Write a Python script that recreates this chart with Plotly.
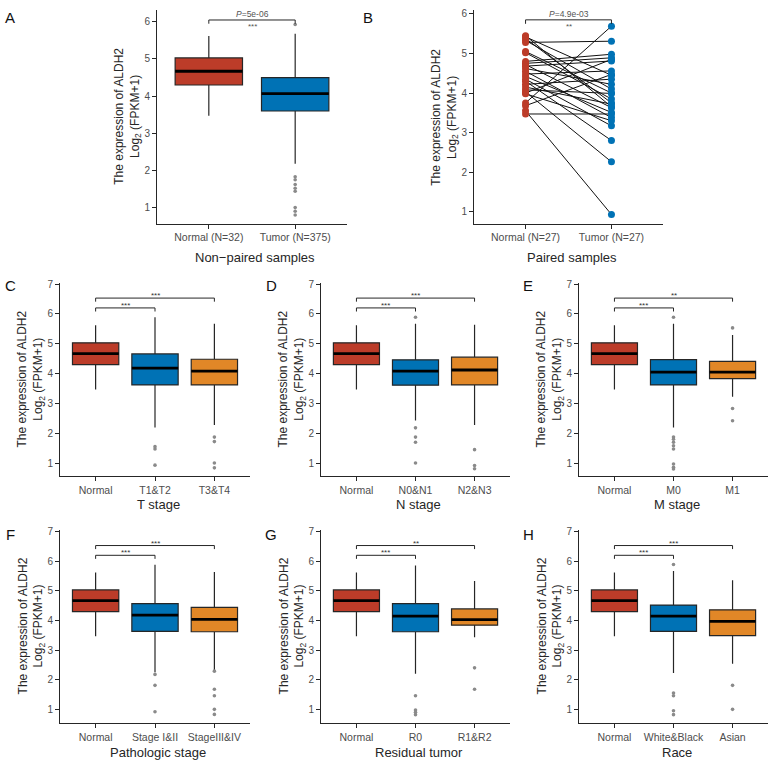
import plotly.graph_objects as go

W, H = 776, 763
FONT = "Liberation Sans, Arial, Helvetica, sans-serif"
RED, BLUE, ORANGE = "#BC3C29", "#0072B5", "#E18727"
PALETTE = [RED, BLUE, ORANGE]
INK = "#262626"
TICK_GREY = "#4d4d4d"
OUT_GREY = "#8a8a8a"

# ---------------- data ----------------
# Panel A: non-paired samples (lower whisker, q1, median, q3, upper whisker)
a_groups = ["Normal (N=32)", "Tumor (N=375)"]
a_lower = [3.47, 2.18]
a_q1 = [4.30, 3.60]
a_median = [4.67, 4.07]
a_q3 = [5.03, 4.50]
a_upper = [5.62, 5.68]
a_outliers = [[], [5.93, 1.83, 1.75, 1.62, 1.52, 1.44, 1.00, 0.90, 0.80]]
a_pvalue = "<i>P</i>=5e-06"
a_sig = "***"

# Panel B: paired samples
b_groups = ["Normal (N=27)", "Tumor (N=27)"]
b_normal = [5.45, 5.42, 5.38, 5.33, 5.28, 5.05, 5.02, 4.80, 4.75, 4.72, 4.68, 4.62, 4.55, 4.48,
            4.42, 4.35, 4.30, 4.22, 4.15, 4.08, 4.03, 4.00, 3.98, 3.75, 3.68, 3.55, 3.47]
b_tumor = [3.65, 4.45, 3.75, 4.10, 5.31, 4.00, 3.85, 4.98, 4.89, 3.63, 4.81, 4.22, 3.38, 4.56,
           3.51, 3.17, 2.80, 4.35, 3.72, 3.99, 2.26, 4.85, 3.30, 5.69, 4.47, 0.93, 3.47]
b_pvalue = "<i>P</i>=4.9e-03"
b_sig = "**"

# Panels C-H: Normal + two clinical subgroups
c_groups = ["Normal", "T1&T2", "T3&T4"]
c_lower = [3.47, 2.19, 2.28]
c_q1 = [4.30, 3.62, 3.62]
c_median = [4.67, 4.18, 4.08]
c_q3 = [5.03, 4.66, 4.48]
c_upper = [5.62, 5.89, 5.67]
c_outliers = [[], [1.55, 1.47, 0.93], [1.87, 1.72, 1.00, 0.84]]
c_sig = ["***", "***"]

d_groups = ["Normal", "N0&N1", "N2&N3"]
d_lower = [3.47, 2.43, 2.28]
d_q1 = [4.30, 3.61, 3.62]
d_median = [4.67, 4.08, 4.12]
d_q3 = [5.03, 4.46, 4.55]
d_upper = [5.62, 5.67, 5.64]
d_outliers = [[], [5.89, 2.18, 1.87, 1.70, 1.00], [1.45, 0.92, 0.81]]
d_sig = ["***", "***"]

e_groups = ["Normal", "M0", "M1"]
e_lower = [3.47, 2.19, 3.22]
e_q1 = [4.30, 3.62, 3.83]
e_median = [4.67, 4.05, 4.05]
e_q3 = [5.03, 4.47, 4.41]
e_upper = [5.62, 5.67, 5.29]
e_outliers = [[], [5.89, 1.87, 1.80, 1.70, 1.58, 1.47, 0.97, 0.86, 0.80], [5.53, 2.83, 2.42]]
e_sig = ["***", "**"]

f_groups = ["Normal", "Stage I&II", "StageIII&IV"]
f_lower = [3.47, 2.25, 2.32]
f_q1 = [4.30, 3.63, 3.62]
f_median = [4.67, 4.18, 4.04]
f_q3 = [5.03, 4.57, 4.44]
f_upper = [5.62, 5.88, 5.64]
f_outliers = [[], [2.18, 1.81, 0.92], [2.29, 1.68, 1.46, 1.00, 0.83]]
f_sig = ["***", "***"]

g_groups = ["Normal", "R0", "R1&R2"]
g_lower = [3.47, 2.20, 3.43]
g_q1 = [4.30, 3.62, 3.84]
g_median = [4.67, 4.15, 4.03]
g_q3 = [5.03, 4.57, 4.39]
g_upper = [5.62, 5.86, 5.33]
g_outliers = [[], [1.46, 0.98, 0.90, 0.82], [2.40, 1.68]]
g_sig = ["***", "**"]

h_groups = ["Normal", "White&Black", "Asian"]
h_lower = [3.47, 2.23, 2.54]
h_q1 = [4.30, 3.63, 3.49]
h_median = [4.67, 4.15, 3.97]
h_q3 = [5.03, 4.52, 4.36]
h_upper = [5.62, 5.67, 5.36]
h_outliers = [[], [5.89, 1.55, 1.46, 0.95, 0.82], [1.81, 1.00]]
h_sig = ["***", "***"]

Y_TITLE = "The expression of ALDH2<br>Log<sub>2</sub> (FPKM+1)"

# ---------------- layout helpers ----------------
# pixel boxes of each plotting area: (left, right, top, bottom)
PANELS = [
    dict(key="A", box=(157, 347, 5, 220), yr=[0.57, 6.32], ticks=[1, 2, 3, 4, 5, 6],
         xtitle="Non\u2212paired samples", letter=(10, 13)),
    dict(key="B", box=(474, 663, 5, 220), yr=[0.70, 6.10], ticks=[1, 2, 3, 4, 5, 6],
         xtitle="Paired samples", letter=(368, 13)),
    dict(key="C", box=(60, 250, 280, 474), yr=[0.57, 7.03], ticks=[1, 2, 3, 4, 5, 6, 7],
         xtitle="T stage", letter=(10, 282)),
    dict(key="D", box=(321, 510, 280, 474), yr=[0.57, 7.03], ticks=[1, 2, 3, 4, 5, 6, 7],
         xtitle="N stage", letter=(271, 282)),
    dict(key="E", box=(579, 768, 280, 474), yr=[0.57, 7.03], ticks=[1, 2, 3, 4, 5, 6, 7],
         xtitle="M stage", letter=(528, 282)),
    dict(key="F", box=(60, 250, 528, 723), yr=[0.53, 7.07], ticks=[1, 2, 3, 4, 5, 6, 7],
         xtitle="Pathologic stage", letter=(10, 533)),
    dict(key="G", box=(321, 510, 528, 723), yr=[0.53, 7.07], ticks=[1, 2, 3, 4, 5, 6, 7],
         xtitle="Residual tumor", letter=(271, 533)),
    dict(key="H", box=(579, 768, 528, 723), yr=[0.53, 7.07], ticks=[1, 2, 3, 4, 5, 6, 7],
         xtitle="Race", letter=(528, 533)),
]

BOX_DATA = {
    "A": (a_groups, a_lower, a_q1, a_median, a_q3, a_upper, a_outliers),
    "C": (c_groups, c_lower, c_q1, c_median, c_q3, c_upper, c_outliers),
    "D": (d_groups, d_lower, d_q1, d_median, d_q3, d_upper, d_outliers),
    "E": (e_groups, e_lower, e_q1, e_median, e_q3, e_upper, e_outliers),
    "F": (f_groups, f_lower, f_q1, f_median, f_q3, f_upper, f_outliers),
    "G": (g_groups, g_lower, g_q1, g_median, g_q3, g_upper, g_outliers),
    "H": (h_groups, h_lower, h_q1, h_median, h_q3, h_upper, h_outliers),
}
SIGS = {"C": c_sig, "D": d_sig, "E": e_sig, "F": f_sig, "G": g_sig, "H": h_sig}

BOX_W = 0.78

fig = go.Figure()
layout = dict(
    width=W, height=H, margin=dict(l=0, r=0, t=0, b=0),
    paper_bgcolor="white", plot_bgcolor="white", showlegend=False,
    font=dict(family=FONT, color=INK),
)
shapes = []
annotations = []


def px_x(x):
    return x / W


def px_y(y):
    return 1 - y / H


def seg(xref, yref, x0, y0, x1, y1, width=1.0, color=INK):
    shapes.append(dict(type="line", xref=xref, yref=yref, x0=x0, y0=y0, x1=x1, y1=y1,
                       line=dict(color=color, width=width)))


def bracket(xref, yref, i0, i1, level, drop=0.11):
    seg(xref, yref, i0, level - drop, i0, level)
    seg(xref, yref, i0, level, i1, level)
    seg(xref, yref, i1, level, i1, level - drop)


for n, p in enumerate(PANELS, start=1):
    sfx = "" if n == 1 else str(n)
    xa, ya = "x" + sfx, "y" + sfx
    l, r, t, b = p["box"]
    key = p["key"]
    groups = BOX_DATA[key][0] if key in BOX_DATA else b_groups

    layout["xaxis" + sfx] = dict(
        domain=[px_x(l), px_x(r)], anchor=ya, type="category",
        categoryorder="array", categoryarray=groups,
        range=[-0.6, len(groups) - 0.4], showline=True, linecolor=INK, linewidth=1.1,
        ticks="outside", ticklen=4, tickcolor=INK, tickwidth=1,
        tickfont=dict(size=10.5, color=TICK_GREY, family=FONT),
        showgrid=False, zeroline=False, fixedrange=True,
    )
    layout["yaxis" + sfx] = dict(
        domain=[px_y(b), px_y(t)], anchor=xa, range=p["yr"], tickvals=p["ticks"],
        showline=True, linecolor=INK, linewidth=1.1,
        ticks="outside", ticklen=4, tickcolor=INK, tickwidth=1,
        tickfont=dict(size=10, color=TICK_GREY, family=FONT),
        showgrid=False, zeroline=False, fixedrange=True,
    )

    # panel letter
    lx, ly = p["letter"]
    annotations.append(dict(text=key, x=px_x(lx), y=px_y(ly), xref="paper", yref="paper",
                            showarrow=False, xanchor="center", yanchor="middle",
                            font=dict(size=15, color="#111", family=FONT)))
    # y title
    annotations.append(dict(text=Y_TITLE, x=px_x(l - 29), y=px_y((t + b) / 2), xref="paper",
                            yref="paper", showarrow=False, textangle=-90,
                            xanchor="center", yanchor="middle",
                            font=dict(size=12, color=INK, family=FONT)))
    # x title
    xt_y = b + 34 if key in ("A", "B") else b + 29
    annotations.append(dict(text=p["xtitle"], x=px_x((l + r) / 2 + 3), y=px_y(xt_y),
                            xref="paper", yref="paper", showarrow=False,
                            xanchor="center", yanchor="middle",
                            font=dict(size=13, color=INK, family=FONT)))

    if key in BOX_DATA:
        groups, lo, q1, med, q3, hi, outs = BOX_DATA[key]
        for i, g in enumerate(groups):
            fig.add_trace(go.Box(
                x=[g], lowerfence=[lo[i]], q1=[q1[i]], median=[med[i]], q3=[q3[i]],
                upperfence=[hi[i]], fillcolor=PALETTE[i], width=BOX_W, whiskerwidth=0,
                line=dict(color=INK, width=1.2), boxpoints=False,
                xaxis=xa, yaxis=ya, hoverinfo="skip",
            ))
            # thick median bar (as in ggplot2)
            seg(xa, ya, i - BOX_W / 2, med[i], i + BOX_W / 2, med[i], width=2.8, color="#000")
            if outs[i]:
                fig.add_trace(go.Scatter(
                    x=[g] * len(outs[i]), y=outs[i], mode="markers",
                    marker=dict(color=OUT_GREY, size=3.6), xaxis=xa, yaxis=ya,
                    hoverinfo="skip",
                ))
    else:
        # paired lines
        lx_, ly_ = [], []
        for nv, tv in zip(b_normal, b_tumor):
            lx_ += [b_groups[0], b_groups[1], None]
            ly_ += [nv, tv, None]
        fig.add_trace(go.Scatter(x=lx_, y=ly_, mode="lines", line=dict(color="#111", width=1),
                                 connectgaps=False, xaxis=xa, yaxis=ya, hoverinfo="skip"))
        fig.add_trace(go.Scatter(x=[b_groups[0]] * len(b_normal), y=b_normal, mode="markers",
                                 marker=dict(color=RED, size=7), xaxis=xa, yaxis=ya,
                                 hoverinfo="skip"))
        fig.add_trace(go.Scatter(x=[b_groups[1]] * len(b_tumor), y=b_tumor, mode="markers",
                                 marker=dict(color=BLUE, size=7), xaxis=xa, yaxis=ya,
                                 hoverinfo="skip"))

    # significance brackets
    if key in ("A", "B"):
        level = 6.05 if key == "A" else 5.85
        ptxt, stxt = (a_pvalue, a_sig) if key == "A" else (b_pvalue, b_sig)
        bracket(xa, ya, 0, 1, level, drop=0.1)
        annotations.append(dict(text=ptxt, x=0.5, y=level, xref=xa, yref=ya, showarrow=False,
                                xanchor="center", yanchor="bottom", yshift=-1,
                                font=dict(size=8.5, color="#555", family=FONT)))
        annotations.append(dict(text=stxt, x=0.5, y=level, xref=xa, yref=ya, showarrow=False,
                                xanchor="center", yanchor="top", yshift=0,
                                font=dict(size=8, color="#555", family=FONT)))
    else:
        for j, (lev, tgt) in enumerate(zip([6.20, 6.53], [1, 2])):
            bracket(xa, ya, 0, tgt, lev, drop=0.12)
            annotations.append(dict(text=SIGS[key][j], x=tgt / 2, y=lev, xref=xa, yref=ya,
                                    showarrow=False, xanchor="center", yanchor="bottom",
                                    yshift=-4, font=dict(size=8, color="#333", family=FONT)))

layout["shapes"] = shapes
layout["annotations"] = annotations
fig.update_layout(**layout)
fig.write_html("out.html", config={"displayModeBar": False},
               post_script="document.body.style.margin='0';document.body.style.overflow='hidden';")
